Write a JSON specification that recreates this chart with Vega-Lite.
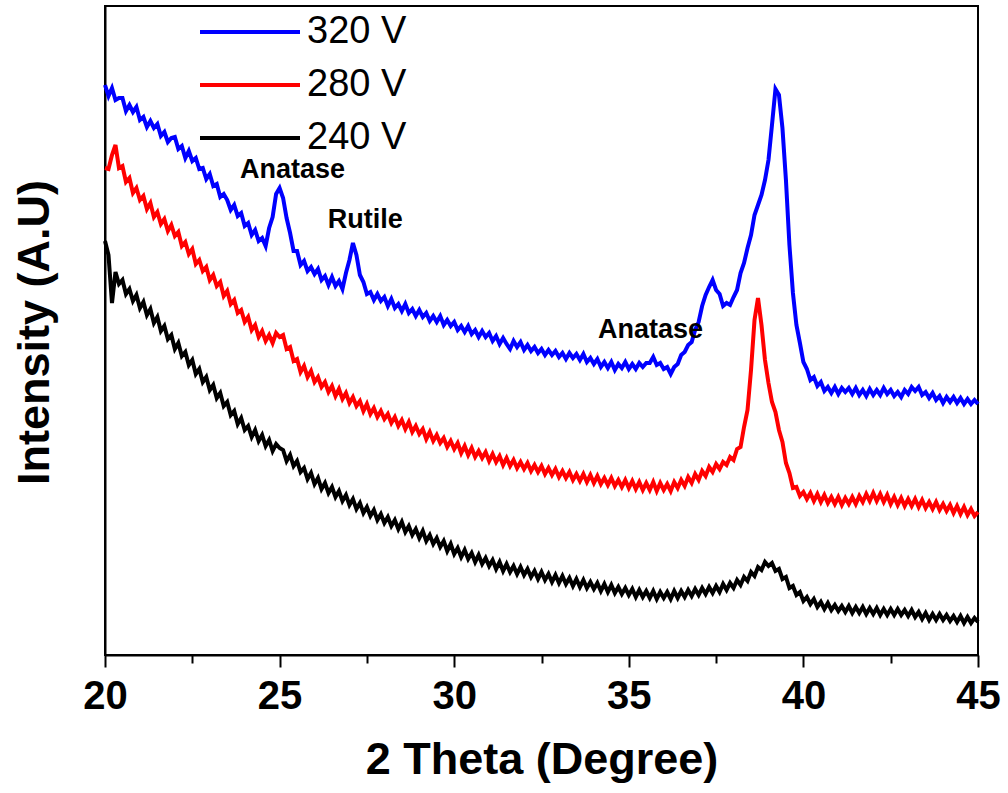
{
 "$schema": "https://vega.github.io/schema/vega-lite/v6.json",
 "width": 873,
 "height": 649,
 "autosize": {"type": "none"},
 "padding": {"left": 105, "top": 6, "right": 30, "bottom": 138},
 "background": "white",
 "config": {"view": {"stroke": "black", "strokeWidth": 2}, "font": "Liberation Sans"},
 "datasets": {
  "b": [
   {"t":20.0,"i":570},{"t":20.1,"i":559},{"t":20.2,"i":567},{"t":20.3,"i":555},{"t":20.4,"i":557},{"t":20.5,"i":557},{"t":20.6,"i":544},{"t":20.7,"i":550},{"t":20.8,"i":543},{"t":20.9,"i":548},
   {"t":21.0,"i":535},{"t":21.1,"i":538},{"t":21.2,"i":528},{"t":21.3,"i":534},{"t":21.4,"i":527},{"t":21.5,"i":531},{"t":21.6,"i":519},{"t":21.7,"i":523},{"t":21.8,"i":513},{"t":21.9,"i":517},
   {"t":22.0,"i":518},{"t":22.1,"i":506},{"t":22.2,"i":509},{"t":22.3,"i":497},{"t":22.4,"i":504},{"t":22.5,"i":494},{"t":22.6,"i":497},{"t":22.7,"i":486},{"t":22.8,"i":487},{"t":22.9,"i":476},
   {"t":23.0,"i":481},{"t":23.1,"i":469},{"t":23.2,"i":471},{"t":23.3,"i":458},{"t":23.4,"i":461},{"t":23.5,"i":455},{"t":23.6,"i":445},{"t":23.7,"i":450},{"t":23.8,"i":439},{"t":23.9,"i":442},
   {"t":24.0,"i":429},{"t":24.1,"i":432},{"t":24.2,"i":420},{"t":24.3,"i":425},{"t":24.4,"i":414},{"t":24.5,"i":417},{"t":24.6,"i":409},{"t":24.7,"i":427},{"t":24.8,"i":438},{"t":24.9,"i":461},
   {"t":25.0,"i":467},{"t":25.1,"i":457},{"t":25.2,"i":437},{"t":25.3,"i":422},{"t":25.4,"i":404},{"t":25.5,"i":404},{"t":25.6,"i":390},{"t":25.7,"i":394},{"t":25.8,"i":384},{"t":25.9,"i":388},
   {"t":26.0,"i":381},{"t":26.1,"i":386},{"t":26.2,"i":375},{"t":26.3,"i":379},{"t":26.4,"i":370},{"t":26.5,"i":378},{"t":26.6,"i":369},{"t":26.7,"i":374},{"t":26.8,"i":366},{"t":26.9,"i":382},
   {"t":27.0,"i":395},{"t":27.1,"i":412},{"t":27.2,"i":400},{"t":27.3,"i":380},{"t":27.4,"i":373},{"t":27.5,"i":361},{"t":27.6,"i":363},{"t":27.7,"i":355},{"t":27.8,"i":361},{"t":27.9,"i":354},
   {"t":28.0,"i":358},{"t":28.1,"i":349},{"t":28.2,"i":356},{"t":28.3,"i":347},{"t":28.4,"i":351},{"t":28.5,"i":344},{"t":28.6,"i":351},{"t":28.7,"i":342},{"t":28.8,"i":346},{"t":28.9,"i":339},
   {"t":29.0,"i":345},{"t":29.1,"i":338},{"t":29.2,"i":342},{"t":29.3,"i":334},{"t":29.4,"i":339},{"t":29.5,"i":333},{"t":29.6,"i":339},{"t":29.7,"i":330},{"t":29.8,"i":335},{"t":29.9,"i":329},
   {"t":30.0,"i":333},{"t":30.1,"i":325},{"t":30.2,"i":329},{"t":30.3,"i":323},{"t":30.4,"i":329},{"t":30.5,"i":321},{"t":30.6,"i":325},{"t":30.7,"i":318},{"t":30.8,"i":324},{"t":30.9,"i":318},
   {"t":31.0,"i":322},{"t":31.1,"i":314},{"t":31.2,"i":319},{"t":31.3,"i":311},{"t":31.4,"i":317},{"t":31.5,"i":311},{"t":31.6,"i":306},{"t":31.7,"i":314},{"t":31.8,"i":308},{"t":31.9,"i":313},
   {"t":32.0,"i":305},{"t":32.1,"i":310},{"t":32.2,"i":304},{"t":32.3,"i":308},{"t":32.4,"i":302},{"t":32.5,"i":306},{"t":32.6,"i":300},{"t":32.7,"i":305},{"t":32.8,"i":300},{"t":32.9,"i":304},
   {"t":33.0,"i":298},{"t":33.1,"i":302},{"t":33.2,"i":296},{"t":33.3,"i":302},{"t":33.4,"i":297},{"t":33.5,"i":301},{"t":33.6,"i":295},{"t":33.7,"i":301},{"t":33.8,"i":293},{"t":33.9,"i":297},
   {"t":34.0,"i":291},{"t":34.1,"i":296},{"t":34.2,"i":288},{"t":34.3,"i":293},{"t":34.4,"i":287},{"t":34.5,"i":293},{"t":34.6,"i":285},{"t":34.7,"i":291},{"t":34.8,"i":287},{"t":34.9,"i":293},
   {"t":35.0,"i":286},{"t":35.1,"i":291},{"t":35.2,"i":286},{"t":35.3,"i":292},{"t":35.4,"i":288},{"t":35.5,"i":292},{"t":35.6,"i":292},{"t":35.7,"i":298},{"t":35.8,"i":290},{"t":35.9,"i":292},
   {"t":36.0,"i":286},{"t":36.1,"i":288},{"t":36.2,"i":281},{"t":36.3,"i":288},{"t":36.4,"i":291},{"t":36.5,"i":300},{"t":36.6,"i":303},{"t":36.7,"i":310},{"t":36.8,"i":313},{"t":36.9,"i":325},
   {"t":37.0,"i":333},{"t":37.1,"i":349},{"t":37.2,"i":360},{"t":37.3,"i":368},{"t":37.4,"i":375},{"t":37.5,"i":365},{"t":37.6,"i":361},{"t":37.7,"i":349},{"t":37.8,"i":352},{"t":37.9,"i":350},
   {"t":38.0,"i":358},{"t":38.1,"i":365},{"t":38.2,"i":382},{"t":38.3,"i":392},{"t":38.4,"i":407},{"t":38.5,"i":420},{"t":38.6,"i":440},{"t":38.7,"i":450},{"t":38.8,"i":460},{"t":38.9,"i":475},
   {"t":39.0,"i":495},{"t":39.1,"i":530},{"t":39.2,"i":566},{"t":39.3,"i":560},{"t":39.4,"i":527},{"t":39.5,"i":475},{"t":39.6,"i":410},{"t":39.7,"i":362},{"t":39.8,"i":330},{"t":39.9,"i":312},
   {"t":40.0,"i":293},{"t":40.1,"i":286},{"t":40.2,"i":275},{"t":40.3,"i":278},{"t":40.4,"i":269},{"t":40.5,"i":273},{"t":40.6,"i":264},{"t":40.7,"i":268},{"t":40.8,"i":262},{"t":40.9,"i":268},
   {"t":41.0,"i":261},{"t":41.1,"i":267},{"t":41.2,"i":263},{"t":41.3,"i":267},{"t":41.4,"i":261},{"t":41.5,"i":267},{"t":41.6,"i":260},{"t":41.7,"i":265},{"t":41.8,"i":259},{"t":41.9,"i":266},
   {"t":42.0,"i":260},{"t":42.1,"i":265},{"t":42.2,"i":260},{"t":42.3,"i":267},{"t":42.4,"i":261},{"t":42.5,"i":265},{"t":42.6,"i":259},{"t":42.7,"i":263},{"t":42.8,"i":258},{"t":42.9,"i":265},
   {"t":43.0,"i":261},{"t":43.1,"i":268},{"t":43.2,"i":264},{"t":43.3,"i":268},{"t":43.4,"i":260},{"t":43.5,"i":263},{"t":43.6,"i":257},{"t":43.7,"i":262},{"t":43.8,"i":255},{"t":43.9,"i":259},
   {"t":44.0,"i":252},{"t":44.1,"i":258},{"t":44.2,"i":253},{"t":44.3,"i":258},{"t":44.4,"i":252},{"t":44.5,"i":257},{"t":44.6,"i":251},{"t":44.7,"i":256},{"t":44.8,"i":251},{"t":44.9,"i":255},
   {"t":45.0,"i":251}
  ],
  "r": [
   {"t":20.0,"i":487},{"t":20.1,"i":486},{"t":20.2,"i":500},{"t":20.3,"i":510},{"t":20.4,"i":487},{"t":20.5,"i":489},{"t":20.6,"i":473},{"t":20.7,"i":477},{"t":20.8,"i":462},{"t":20.9,"i":467},
   {"t":21.0,"i":455},{"t":21.1,"i":459},{"t":21.2,"i":446},{"t":21.3,"i":452},{"t":21.4,"i":438},{"t":21.5,"i":443},{"t":21.6,"i":431},{"t":21.7,"i":436},{"t":21.8,"i":424},{"t":21.9,"i":430},
   {"t":22.0,"i":419},{"t":22.1,"i":423},{"t":22.2,"i":409},{"t":22.3,"i":413},{"t":22.4,"i":401},{"t":22.5,"i":406},{"t":22.6,"i":391},{"t":22.7,"i":395},{"t":22.8,"i":384},{"t":22.9,"i":388},
   {"t":23.0,"i":375},{"t":23.1,"i":380},{"t":23.2,"i":369},{"t":23.3,"i":373},{"t":23.4,"i":359},{"t":23.5,"i":364},{"t":23.6,"i":351},{"t":23.7,"i":355},{"t":23.8,"i":342},{"t":23.9,"i":345},
   {"t":24.0,"i":333},{"t":24.1,"i":338},{"t":24.2,"i":325},{"t":24.3,"i":330},{"t":24.4,"i":318},{"t":24.5,"i":324},{"t":24.6,"i":314},{"t":24.7,"i":320},{"t":24.8,"i":312},{"t":24.9,"i":322},
   {"t":25.0,"i":318},{"t":25.1,"i":320},{"t":25.2,"i":306},{"t":25.3,"i":308},{"t":25.4,"i":294},{"t":25.5,"i":296},{"t":25.6,"i":283},{"t":25.7,"i":289},{"t":25.8,"i":278},{"t":25.9,"i":284},
   {"t":26.0,"i":273},{"t":26.1,"i":278},{"t":26.2,"i":268},{"t":26.3,"i":273},{"t":26.4,"i":263},{"t":26.5,"i":269},{"t":26.6,"i":259},{"t":26.7,"i":266},{"t":26.8,"i":256},{"t":26.9,"i":262},
   {"t":27.0,"i":252},{"t":27.1,"i":258},{"t":27.2,"i":249},{"t":27.3,"i":254},{"t":27.4,"i":244},{"t":27.5,"i":251},{"t":27.6,"i":241},{"t":27.7,"i":247},{"t":27.8,"i":238},{"t":27.9,"i":244},
   {"t":28.0,"i":236},{"t":28.1,"i":241},{"t":28.2,"i":232},{"t":28.3,"i":238},{"t":28.4,"i":229},{"t":28.5,"i":235},{"t":28.6,"i":226},{"t":28.7,"i":233},{"t":28.8,"i":223},{"t":28.9,"i":229},
   {"t":29.0,"i":221},{"t":29.1,"i":226},{"t":29.2,"i":216},{"t":29.3,"i":223},{"t":29.4,"i":214},{"t":29.5,"i":220},{"t":29.6,"i":212},{"t":29.7,"i":217},{"t":29.8,"i":208},{"t":29.9,"i":214},
   {"t":30.0,"i":206},{"t":30.1,"i":212},{"t":30.2,"i":202},{"t":30.3,"i":209},{"t":30.4,"i":200},{"t":30.5,"i":207},{"t":30.6,"i":198},{"t":30.7,"i":204},{"t":30.8,"i":197},{"t":30.9,"i":203},
   {"t":31.0,"i":194},{"t":31.1,"i":201},{"t":31.2,"i":193},{"t":31.3,"i":199},{"t":31.4,"i":190},{"t":31.5,"i":197},{"t":31.6,"i":189},{"t":31.7,"i":195},{"t":31.8,"i":187},{"t":31.9,"i":193},
   {"t":32.0,"i":186},{"t":32.1,"i":192},{"t":32.2,"i":184},{"t":32.3,"i":190},{"t":32.4,"i":183},{"t":32.5,"i":189},{"t":32.6,"i":181},{"t":32.7,"i":187},{"t":32.8,"i":180},{"t":32.9,"i":186},
   {"t":33.0,"i":178},{"t":33.1,"i":184},{"t":33.2,"i":177},{"t":33.3,"i":183},{"t":33.4,"i":175},{"t":33.5,"i":181},{"t":33.6,"i":174},{"t":33.7,"i":181},{"t":33.8,"i":173},{"t":33.9,"i":180},
   {"t":34.0,"i":172},{"t":34.1,"i":179},{"t":34.2,"i":171},{"t":34.3,"i":177},{"t":34.4,"i":170},{"t":34.5,"i":177},{"t":34.6,"i":169},{"t":34.7,"i":175},{"t":34.8,"i":168},{"t":34.9,"i":175},
   {"t":35.0,"i":167},{"t":35.1,"i":174},{"t":35.2,"i":166},{"t":35.3,"i":173},{"t":35.4,"i":165},{"t":35.5,"i":172},{"t":35.6,"i":165},{"t":35.7,"i":173},{"t":35.8,"i":164},{"t":35.9,"i":172},
   {"t":36.0,"i":165},{"t":36.1,"i":171},{"t":36.2,"i":164},{"t":36.3,"i":173},{"t":36.4,"i":167},{"t":36.5,"i":175},{"t":36.6,"i":169},{"t":36.7,"i":178},{"t":36.8,"i":172},{"t":36.9,"i":181},
   {"t":37.0,"i":175},{"t":37.1,"i":184},{"t":37.2,"i":179},{"t":37.3,"i":188},{"t":37.4,"i":183},{"t":37.5,"i":191},{"t":37.6,"i":186},{"t":37.7,"i":193},{"t":37.8,"i":190},{"t":37.9,"i":198},
   {"t":38.0,"i":195},{"t":38.1,"i":206},{"t":38.2,"i":208},{"t":38.3,"i":228},{"t":38.4,"i":245},{"t":38.5,"i":285},{"t":38.6,"i":335},{"t":38.7,"i":357},{"t":38.8,"i":330},{"t":38.9,"i":295},
   {"t":39.0,"i":272},{"t":39.1,"i":253},{"t":39.2,"i":243},{"t":39.3,"i":225},{"t":39.4,"i":213},{"t":39.5,"i":192},{"t":39.6,"i":182},{"t":39.7,"i":167},{"t":39.8,"i":168},{"t":39.9,"i":159},
   {"t":40.0,"i":163},{"t":40.1,"i":156},{"t":40.2,"i":162},{"t":40.3,"i":154},{"t":40.4,"i":161},{"t":40.5,"i":153},{"t":40.6,"i":160},{"t":40.7,"i":152},{"t":40.8,"i":158},{"t":40.9,"i":151},
   {"t":41.0,"i":158},{"t":41.1,"i":150},{"t":41.2,"i":157},{"t":41.3,"i":151},{"t":41.4,"i":158},{"t":41.5,"i":151},{"t":41.6,"i":159},{"t":41.7,"i":153},{"t":41.8,"i":161},{"t":41.9,"i":154},
   {"t":42.0,"i":162},{"t":42.1,"i":154},{"t":42.2,"i":161},{"t":42.3,"i":153},{"t":42.4,"i":160},{"t":42.5,"i":151},{"t":42.6,"i":158},{"t":42.7,"i":150},{"t":42.8,"i":157},{"t":42.9,"i":149},
   {"t":43.0,"i":156},{"t":43.1,"i":149},{"t":43.2,"i":156},{"t":43.3,"i":148},{"t":43.4,"i":155},{"t":43.5,"i":147},{"t":43.6,"i":153},{"t":43.7,"i":146},{"t":43.8,"i":153},{"t":43.9,"i":145},
   {"t":44.0,"i":151},{"t":44.1,"i":144},{"t":44.2,"i":150},{"t":44.3,"i":142},{"t":44.4,"i":149},{"t":44.5,"i":141},{"t":44.6,"i":148},{"t":44.7,"i":140},{"t":44.8,"i":146},{"t":44.9,"i":139},
   {"t":45.0,"i":143}
  ],
  "k": [
   {"t":20.0,"i":414},{"t":20.1,"i":400},{"t":20.2,"i":352},{"t":20.3,"i":383},{"t":20.4,"i":371},{"t":20.5,"i":375},{"t":20.6,"i":361},{"t":20.7,"i":366},{"t":20.8,"i":354},{"t":20.9,"i":360},
   {"t":21.0,"i":347},{"t":21.1,"i":353},{"t":21.2,"i":340},{"t":21.3,"i":346},{"t":21.4,"i":332},{"t":21.5,"i":338},{"t":21.6,"i":324},{"t":21.7,"i":329},{"t":21.8,"i":316},{"t":21.9,"i":320},
   {"t":22.0,"i":306},{"t":22.1,"i":312},{"t":22.2,"i":299},{"t":22.3,"i":303},{"t":22.4,"i":290},{"t":22.5,"i":295},{"t":22.6,"i":281},{"t":22.7,"i":286},{"t":22.8,"i":273},{"t":22.9,"i":278},
   {"t":23.0,"i":265},{"t":23.1,"i":270},{"t":23.2,"i":257},{"t":23.3,"i":262},{"t":23.4,"i":249},{"t":23.5,"i":253},{"t":23.6,"i":240},{"t":23.7,"i":244},{"t":23.8,"i":231},{"t":23.9,"i":237},
   {"t":24.0,"i":225},{"t":24.1,"i":229},{"t":24.2,"i":218},{"t":24.3,"i":225},{"t":24.4,"i":214},{"t":24.5,"i":220},{"t":24.6,"i":209},{"t":24.7,"i":215},{"t":24.8,"i":204},{"t":24.9,"i":211},
   {"t":25.0,"i":207},{"t":25.1,"i":205},{"t":25.2,"i":194},{"t":25.3,"i":200},{"t":25.4,"i":189},{"t":25.5,"i":194},{"t":25.6,"i":183},{"t":25.7,"i":187},{"t":25.8,"i":176},{"t":25.9,"i":182},
   {"t":26.0,"i":171},{"t":26.1,"i":177},{"t":26.2,"i":166},{"t":26.3,"i":172},{"t":26.4,"i":162},{"t":26.5,"i":168},{"t":26.6,"i":158},{"t":26.7,"i":164},{"t":26.8,"i":154},{"t":26.9,"i":160},
   {"t":27.0,"i":150},{"t":27.1,"i":156},{"t":27.2,"i":146},{"t":27.3,"i":152},{"t":27.4,"i":142},{"t":27.5,"i":148},{"t":27.6,"i":139},{"t":27.7,"i":145},{"t":27.8,"i":135},{"t":27.9,"i":141},
   {"t":28.0,"i":132},{"t":28.1,"i":138},{"t":28.2,"i":129},{"t":28.3,"i":135},{"t":28.4,"i":126},{"t":28.5,"i":133},{"t":28.6,"i":123},{"t":28.7,"i":129},{"t":28.8,"i":120},{"t":28.9,"i":126},
   {"t":29.0,"i":117},{"t":29.1,"i":124},{"t":29.2,"i":114},{"t":29.3,"i":120},{"t":29.4,"i":111},{"t":29.5,"i":117},{"t":29.6,"i":108},{"t":29.7,"i":114},{"t":29.8,"i":104},{"t":29.9,"i":111},
   {"t":30.0,"i":101},{"t":30.1,"i":107},{"t":30.2,"i":98},{"t":30.3,"i":105},{"t":30.4,"i":96},{"t":30.5,"i":102},{"t":30.6,"i":93},{"t":30.7,"i":100},{"t":30.8,"i":91},{"t":30.9,"i":97},
   {"t":31.0,"i":89},{"t":31.1,"i":95},{"t":31.2,"i":86},{"t":31.3,"i":93},{"t":31.4,"i":84},{"t":31.5,"i":91},{"t":31.6,"i":83},{"t":31.7,"i":89},{"t":31.8,"i":81},{"t":31.9,"i":88},
   {"t":32.0,"i":80},{"t":32.1,"i":86},{"t":32.2,"i":78},{"t":32.3,"i":84},{"t":32.4,"i":76},{"t":32.5,"i":83},{"t":32.6,"i":75},{"t":32.7,"i":81},{"t":32.8,"i":73},{"t":32.9,"i":80},
   {"t":33.0,"i":72},{"t":33.1,"i":79},{"t":33.2,"i":71},{"t":33.3,"i":77},{"t":33.4,"i":69},{"t":33.5,"i":76},{"t":33.6,"i":68},{"t":33.7,"i":75},{"t":33.8,"i":67},{"t":33.9,"i":73},
   {"t":34.0,"i":66},{"t":34.1,"i":72},{"t":34.2,"i":64},{"t":34.3,"i":71},{"t":34.4,"i":63},{"t":34.5,"i":70},{"t":34.6,"i":62},{"t":34.7,"i":68},{"t":34.8,"i":61},{"t":34.9,"i":67},
   {"t":35.0,"i":60},{"t":35.1,"i":66},{"t":35.2,"i":58},{"t":35.3,"i":65},{"t":35.4,"i":58},{"t":35.5,"i":64},{"t":35.6,"i":57},{"t":35.7,"i":64},{"t":35.8,"i":56},{"t":35.9,"i":63},
   {"t":36.0,"i":57},{"t":36.1,"i":63},{"t":36.2,"i":56},{"t":36.3,"i":64},{"t":36.4,"i":57},{"t":36.5,"i":64},{"t":36.6,"i":58},{"t":36.7,"i":65},{"t":36.8,"i":59},{"t":36.9,"i":66},
   {"t":37.0,"i":60},{"t":37.1,"i":67},{"t":37.2,"i":61},{"t":37.3,"i":68},{"t":37.4,"i":62},{"t":37.5,"i":69},{"t":37.6,"i":63},{"t":37.7,"i":71},{"t":37.8,"i":65},{"t":37.9,"i":72},
   {"t":38.0,"i":67},{"t":38.1,"i":75},{"t":38.2,"i":70},{"t":38.3,"i":78},{"t":38.4,"i":74},{"t":38.5,"i":83},{"t":38.6,"i":79},{"t":38.7,"i":88},{"t":38.8,"i":85},{"t":38.9,"i":93},
   {"t":39.0,"i":89},{"t":39.1,"i":92},{"t":39.2,"i":84},{"t":39.3,"i":86},{"t":39.4,"i":76},{"t":39.5,"i":78},{"t":39.6,"i":67},{"t":39.7,"i":69},{"t":39.8,"i":60},{"t":39.9,"i":63},
   {"t":40.0,"i":54},{"t":40.1,"i":58},{"t":40.2,"i":51},{"t":40.3,"i":56},{"t":40.4,"i":48},{"t":40.5,"i":53},{"t":40.6,"i":46},{"t":40.7,"i":52},{"t":40.8,"i":45},{"t":40.9,"i":50},
   {"t":41.0,"i":44},{"t":41.1,"i":49},{"t":41.2,"i":43},{"t":41.3,"i":49},{"t":41.4,"i":42},{"t":41.5,"i":48},{"t":41.6,"i":42},{"t":41.7,"i":48},{"t":41.8,"i":41},{"t":41.9,"i":47},
   {"t":42.0,"i":41},{"t":42.1,"i":47},{"t":42.2,"i":40},{"t":42.3,"i":46},{"t":42.4,"i":40},{"t":42.5,"i":46},{"t":42.6,"i":40},{"t":42.7,"i":46},{"t":42.8,"i":40},{"t":42.9,"i":45},
   {"t":43.0,"i":39},{"t":43.1,"i":45},{"t":43.2,"i":38},{"t":43.3,"i":43},{"t":43.4,"i":36},{"t":43.5,"i":42},{"t":43.6,"i":35},{"t":43.7,"i":41},{"t":43.8,"i":35},{"t":43.9,"i":41},
   {"t":44.0,"i":35},{"t":44.1,"i":40},{"t":44.2,"i":34},{"t":44.3,"i":39},{"t":44.4,"i":33},{"t":44.5,"i":39},{"t":44.6,"i":32},{"t":44.7,"i":38},{"t":44.8,"i":32},{"t":44.9,"i":37},
   {"t":45.0,"i":33}
  ],
  "ann": [
   {"t":25.37,"i":477,"label":"Anatase"},
   {"t":27.45,"i":427,"label":"Rutile"},
   {"t":35.62,"i":317,"label":"Anatase"}
  ]
 },
 "encoding": {
  "x": {"field": "t", "type": "quantitative",
   "scale": {"domain": [20, 45], "nice": false, "zero": false},
   "axis": {"title": "2 Theta (Degree)",
    "values": [20, 22.5, 25, 27.5, 30, 32.5, 35, 37.5, 40, 42.5, 45],
    "labelExpr": "datum.value % 5 === 0 ? datum.label : ''",
    "tickSize": {"condition": {"test": "datum.value % 5 === 0", "value": 12}, "value": 8},
    "tickWidth": 2, "tickColor": "black", "domainColor": "black", "domainWidth": 2, "grid": false,
    "labelFont": "Liberation Sans", "labelFontWeight": "bold", "labelFontSize": 40, "labelColor": "black",
    "labelPadding": 9, "labelFlush": false, "labelOverlap": false, "labelBound": false,
    "titleFont": "Liberation Sans", "titleFontWeight": "bold", "titleFontSize": 45, "titleColor": "black",
    "titleX": 436.5, "titleY": 82, "titleBaseline": "top"}},
  "y": {"field": "i", "type": "quantitative",
   "scale": {"domain": [0, 649], "nice": false, "zero": false},
   "axis": {"title": "Intensity (A.U)", "ticks": false, "labels": false, "grid": false,
    "domainColor": "black", "domainWidth": 2,
    "titleFont": "Liberation Sans", "titleFontWeight": "bold", "titleFontSize": 45, "titleColor": "black",
    "titleX": -48, "titleY": 326}}
 },
 "layer": [
  {"data": {"name": "k"}, "mark": {"type": "line", "strokeWidth": 4},
   "encoding": {"color": {"datum": "240 V", "type": "nominal",
    "scale": {"domain": ["320 V", "280 V", "240 V"], "range": ["#0000FF", "#FF0000", "#000000"]},
    "legend": {"orient": "none", "legendX": 126, "legendY": 7, "title": null,
     "symbolType": "M-5,0H5", "symbolSize": 400, "symbolStrokeWidth": 4,
     "labelFont": "Liberation Sans", "labelFontSize": 38, "labelColor": "black",
     "labelOffset": 38, "rowPadding": 15, "padding": 0}}}},
  {"data": {"name": "r"}, "mark": {"type": "line", "strokeWidth": 4},
   "encoding": {"color": {"datum": "280 V", "type": "nominal"}}},
  {"data": {"name": "b"}, "mark": {"type": "line", "strokeWidth": 4},
   "encoding": {"color": {"datum": "320 V", "type": "nominal"}}},
  {"data": {"name": "ann"}, "mark": {"type": "text", "font": "Liberation Sans", "fontWeight": "bold", "fontSize": 27, "align": "center", "baseline": "alphabetic", "color": "black"},
   "encoding": {"text": {"field": "label"}}}
 ]
}
